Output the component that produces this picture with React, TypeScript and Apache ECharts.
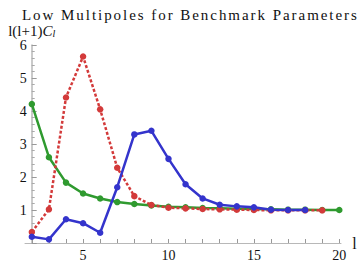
import React, { useEffect, useRef } from "react";
import * as echarts from "echarts";

const TITLE = "Low Multipoles for Benchmark Parameters";
const X_NAME = "l";
const greenL = [2, 3, 4, 5, 6, 7, 8, 9, 10, 11, 12, 13, 14, 15, 16, 17, 18, 19, 20];
const greenV = [4.21, 2.6, 1.83, 1.5, 1.35, 1.24, 1.18, 1.14, 1.1, 1.08, 1.06, 1.05, 1.04, 1.03, 1.02, 1.01, 1.01, 1.0, 1.0];
const redL = [2, 3, 4, 5, 6, 7, 8, 9, 10, 11, 12, 13, 14, 15, 16, 17, 18, 19];
const redV = [0.33, 1.02, 4.41, 5.65, 4.05, 2.28, 1.42, 1.15, 1.07, 1.05, 1.03, 1.02, 1.01, 1.0, 0.99, 0.99, 0.99, 0.99];
const blueL = [2, 3, 4, 5, 6, 7, 8, 9, 10, 11, 12, 13, 14, 15, 16, 17, 18];
const blueV = [0.19, 0.11, 0.72, 0.6, 0.31, 1.69, 3.29, 3.4, 2.55, 1.78, 1.35, 1.16, 1.11, 1.08, 1.01, 1.0, 1.0];
const xTicks = [2, 3, 4, 5, 6, 7, 8, 9, 10, 11, 12, 13, 14, 15, 16, 17, 18, 19, 20];
const xLabels = [5, 10, 15, 20];

const SERIF = "Liberation Serif";

function pairs(xs: number[], ys: number[]) {
  return xs.map((x, i) => [x, ys[i]]);
}

export default function App() {
  const ref = useRef<HTMLDivElement>(null);
  useEffect(() => {
    if (!ref.current) return;
    const chart = echarts.init(ref.current, undefined, { renderer: "svg" });
    const axisColor = "#b8b8b8";
    const mk = (name: string, data: number[][], color: string, dashed: boolean) => ({
      type: "line",
      name,
      data,
      symbol: "circle",
      symbolSize: 6.5,
      itemStyle: { color },
      lineStyle: { color, width: 2.5, type: dashed ? [3, 2] : "solid", cap: "butt" },
      z: 2,
    });
    chart.setOption({
      animation: false,
      textStyle: { fontFamily: SERIF },
      title: {
        text: TITLE,
        left: 17,
        top: 2,
        textStyle: { fontFamily: SERIF, fontSize: 15, fontWeight: "normal", color: "#111" },
      },
      grid: { left: 25, right: 19, top: 45, bottom: 19, containLabel: false },
      xAxis: {
        type: "value",
        min: 1.6,
        max: 20.1,
        name: X_NAME,
        nameLocation: "end",
        nameGap: 10,
        nameTextStyle: { fontFamily: SERIF, fontSize: 16, color: "#111", verticalAlign: "middle" },
        axisLine: { show: true, lineStyle: { color: axisColor, width: 1 } },
        axisTick: { show: true, inside: true, length: 4, customValues: xTicks, lineStyle: { color: "#999" } },
        axisLabel: {
          customValues: xLabels,
          fontFamily: SERIF,
          fontSize: 14,
          color: "#111",
          margin: 5,
        },
        splitLine: { show: false },
      },
      yAxis: {
        type: "value",
        min: 0,
        max: 6,
        interval: 1,
        offset: -6.7,
        name: "{n|l(l+1)}{c|C}{s|l}",
        nameLocation: "end",
        nameGap: 7,
        nameTextStyle: {
          align: "center",
          fontFamily: SERIF,
          rich: {
            n: { fontFamily: SERIF, fontSize: 15, color: "#111" },
            c: { fontFamily: SERIF, fontSize: 15, fontStyle: "italic", color: "#111" },
            s: { fontFamily: SERIF, fontSize: 10, fontStyle: "italic", color: "#111", verticalAlign: "bottom", padding: [5, 0, 0, 0] },
          },
        },
        axisLine: { show: true, onZero: false, lineStyle: { color: axisColor, width: 1.5 } },
        axisTick: { show: true, inside: true, length: 5, lineStyle: { color: "#999" } },
        minorTick: { show: true, splitNumber: 5, length: 3, lineStyle: { color: "#aaa" } },
        axisLabel: {
          fontFamily: SERIF,
          fontSize: 14,
          color: "#111",
          margin: 5,
          formatter: (v: number) => (v === 0 ? "" : String(v)),
        },
        splitLine: { show: false },
      },
      series: [
        mk("green", pairs(greenL, greenV), "#2f9a2f", false),
        mk("red", pairs(redL, redV), "#d33a3a", true),
        mk("blue", pairs(blueL, blueV), "#3434cc", false),
      ],
    });
    const svg = ref.current.querySelector("svg");
    if (svg) {
      svg.querySelectorAll("text").forEach((t) => {
        if (t.textContent === TITLE) t.setAttribute("letter-spacing", "1.95");
      });
    }
    return () => chart.dispose();
  }, []);
  return <div ref={ref} style={{ width: 360, height: 262, position: "absolute", left: 0, top: 0 }} />;
}
